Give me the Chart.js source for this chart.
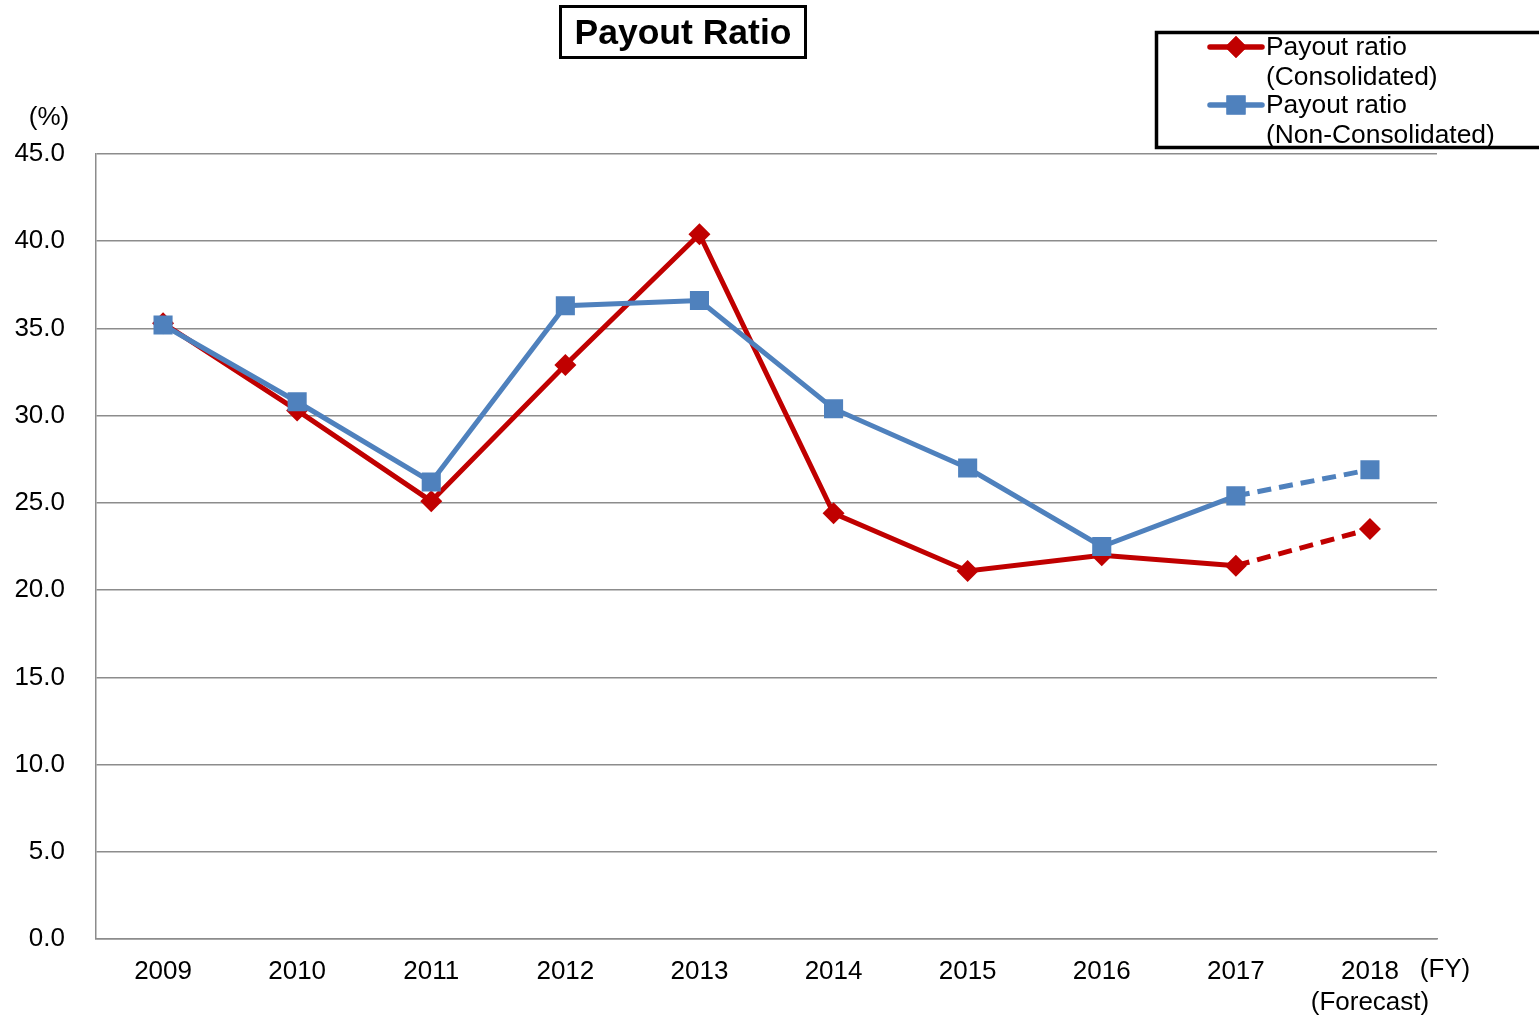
<!DOCTYPE html>
<html>
<head>
<meta charset="utf-8">
<script src="https://cdn.jsdelivr.net/npm/chart.js@4.4.1/dist/chart.umd.min.js"></script>
<style>
  html, body { margin: 0; padding: 0; background: #ffffff; }
  #wrap { width: 1539px; height: 1020px; position: relative; }
</style>
</head>
<body>
<div id="wrap"><canvas id="c" width="1539" height="1020"></canvas></div>
<script>
const categories = ["2009", "2010", "2011", "2012", "2013", "2014", "2015", "2016", "2017", ["2018", "(Forecast)"]];
const consolidated = [35.3, 30.3, 25.1, 32.9, 40.4, 24.4, 21.1, 22.0, 21.4, 23.5];
const nonConsolidated = [35.2, 30.8, 26.2, 36.3, 36.6, 30.4, 27.0, 22.5, 25.4, 26.9];
const seriesLabels = [["Payout ratio", "(Consolidated)"], ["Payout ratio", "(Non-Consolidated)"]];
const titleText = "Payout Ratio";
const yUnit = "(%)";
const xUnit = "(FY)";

const RED = "#C00000";
const BLUE = "#4F81BD";
const FONT = "'Liberation Sans', Arial, sans-serif";

const forecastDash = ctx => (ctx.p1DataIndex === categories.length - 1 ? [14, 8] : undefined);

const decor = {
  id: "decor",
  afterDraw(chart) {
    const ctx = chart.ctx;
    ctx.save();
    // Title box
    ctx.strokeStyle = "#000";
    ctx.lineWidth = 3;
    ctx.strokeRect(560.5, 6.5, 245, 51);
    ctx.fillStyle = "#000";
    ctx.font = "bold 35.5px " + FONT;
    ctx.textAlign = "center";
    ctx.textBaseline = "middle";
    ctx.fillText(titleText, 683, 34);

    // Axis units
    ctx.font = "26px " + FONT;
    ctx.fillText(yUnit, 49, 118);
    ctx.fillText(xUnit, 1445, 970);

    // Legend box
    ctx.lineWidth = 3.5;
    ctx.strokeRect(1156.5, 32.5, 400, 115);
    const entries = [
      { color: RED, style: "rectRot", radius: 11, y: 47, lines: seriesLabels[0] },
      { color: BLUE, style: "rect", radius: 13.5, y: 105, lines: seriesLabels[1] }
    ];
    entries.forEach(e => {
      ctx.strokeStyle = e.color;
      ctx.lineWidth = 5.5;
      ctx.lineCap = "round";
      ctx.beginPath();
      ctx.moveTo(1210, e.y);
      ctx.lineTo(1262, e.y);
      ctx.stroke();
      ctx.fillStyle = e.color;
      Chart.helpers.drawPoint(ctx, { pointStyle: e.style, radius: e.radius, rotation: 0, borderWidth: 0 }, 1236, e.y);
      ctx.fill();
      ctx.fillStyle = "#000";
      ctx.font = "26.4px " + FONT;
      ctx.textAlign = "left";
      ctx.textBaseline = "middle";
      e.lines.forEach((t, i) => ctx.fillText(t, 1266, e.y + 1 + i * 30));
    });
    ctx.restore();
  }
};

new Chart(document.getElementById("c"), {
  type: "line",
  data: {
    labels: categories,
    datasets: [
      {
        label: seriesLabels[0].join(" "),
        data: consolidated,
        borderColor: RED,
        backgroundColor: RED,
        borderWidth: 5,
        pointStyle: "rectRot",
        pointRadius: 11,
        pointHoverRadius: 11,
        pointBorderWidth: 0,
        tension: 0,
        order: 2,
        segment: { borderDash: forecastDash }
      },
      {
        label: seriesLabels[1].join(" "),
        data: nonConsolidated,
        borderColor: BLUE,
        backgroundColor: BLUE,
        borderWidth: 5,
        pointStyle: "rect",
        pointRadius: 13.5,
        pointHoverRadius: 13.5,
        pointBorderWidth: 0,
        tension: 0,
        order: 1,
        segment: { borderDash: forecastDash }
      }
    ]
  },
  options: {
    responsive: false,
    animation: false,
    devicePixelRatio: 1,
    layout: { padding: { left: 0, top: 154, right: 102, bottom: 0 } },
    plugins: {
      legend: { display: false },
      title: { display: false },
      tooltip: { enabled: false }
    },
    scales: {
      x: {
        offset: true,
        grid: { display: false, drawTicks: false },
        border: { display: true, color: "#8c8c8c", width: 1.5 },
        ticks: {
          color: "#000",
          font: { family: FONT, size: 26 },
          padding: 17,
          maxRotation: 0,
          autoSkip: false
        },
        afterFit(scale) { scale.height = 81; }
      },
      y: {
        min: 0,
        max: 45,
        grid: { color: "#8c8c8c", lineWidth: 1.5, drawTicks: false },
        border: { display: true, color: "#8c8c8c", width: 1.5 },
        ticks: {
          stepSize: 5,
          color: "#000",
          font: { family: FONT, size: 26 },
          padding: 31,
          callback: v => Number(v).toFixed(1)
        },
        afterFit(scale) { scale.width = 96; }
      }
    }
  },
  plugins: [decor]
});
</script>
</body>
</html>
